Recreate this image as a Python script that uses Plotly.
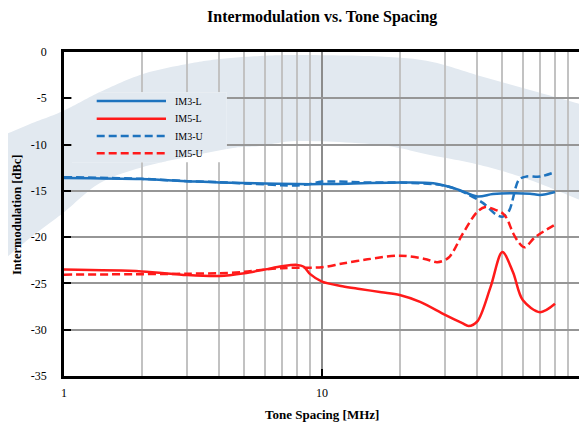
import numpy as np
import plotly.graph_objects as go

# ---------------- data ----------------
series_names = ["IM3-L", "IM5-L", "IM3-U", "IM5-U"]

freq_im3_l = [1, 2, 3, 4, 6, 8, 10, 20, 27, 30, 34, 40, 46, 55, 64, 70, 80]
im3_l = [-13.6, -13.72, -13.95, -14.1, -14.2, -14.27, -14.27, -14.1, -14.17, -14.45,
         -14.9, -15.6, -15.35, -15.25, -15.3, -15.45, -15.13]

freq_im5_l = [1, 2, 3, 4, 5, 6, 7, 8, 8.5, 9, 10, 12, 14, 17, 20, 24, 30, 35, 37, 40,
              45, 50, 55, 60, 70, 80]
im5_l = [-23.5, -23.7, -24.1, -24.2, -23.9, -23.5, -23.15, -23.0, -23.2, -24.0, -24.8,
         -25.3, -25.6, -25.95, -26.25, -27.0, -28.4, -29.3, -29.6, -29.1, -25.4, -21.6,
         -23.8, -26.8, -28.1, -27.2]

freq_im3_u = [1, 2, 3, 4, 5, 6, 7, 8, 9, 10, 15, 20, 30, 36, 42, 47, 50, 53, 58, 62, 70, 80]
im3_u = [-13.52, -13.7, -13.95, -14.06, -14.2, -14.3, -14.4, -14.42, -14.25, -14.0, -14.1,
         -14.1, -14.45, -15.25, -16.3, -17.5, -17.8, -17.2, -13.8, -13.45, -13.45, -12.97]

freq_im5_u = [1, 2, 3, 4, 5, 6, 7, 8, 10, 12, 15, 20, 25, 28, 31, 35, 40, 43, 47, 50, 52,
              55, 58, 61, 67, 80]
im5_u = [-24.05, -24.0, -23.95, -23.9, -23.75, -23.5, -23.35, -23.3, -23.25, -22.85, -22.4,
         -22.0, -22.35, -22.7, -22.2, -19.7, -17.25, -16.75, -17.05, -17.4, -17.95, -19.55,
         -20.6, -21.1, -20.0, -18.65]

x_major_ticks = [1, 10, 100]
x_major_labels = ["1", "10", "100"]
x_minor_ticks = [2, 3, 4, 5, 6, 7, 8, 9, 20, 30, 40, 50, 60, 70, 80, 90]
y_ticks = [0, -5, -10, -15, -20, -25, -30, -35]
y_labels = ["0", "-5", "-10", "-15", "-20", "-25", "-30", "-35"]

title_text = "Intermodulation vs. Tone Spacing"
x_title = "Tone Spacing [MHz]"
y_title = "Intermodulation [dBc]"

# ---------------- styling ----------------
BLUE = "#1E73BE"
RED = "#FF1A1A"
DASH = "8px,4px"
FONT = "Liberation Serif"
WM = "rgb(226,233,240)"

OFF = 8                      # page body margin of the html page
W, H = 579, 419              # figure size (page 587x427 minus body offset)
ML, MR, MT, MB = 56, 7, 44, 51
PW = W - ML - MR
PH = H - MT - MB


def pp(px, py):
    """page pixel -> paper fraction"""
    fx, fy = px - OFF, py - OFF
    return (fx - ML) / PW, (H - MB - fy) / PH


def catmull(pts, n=14):
    pts = np.array(pts, float)
    P = np.vstack([pts[0], pts, pts[-1]])
    out = []
    for i in range(1, len(P) - 2):
        p0, p1, p2, p3 = P[i - 1], P[i], P[i + 1], P[i + 2]
        for t in np.linspace(0, 1, n, endpoint=False):
            t2, t3 = t * t, t * t * t
            out.append(0.5 * ((2 * p1) + (-p0 + p2) * t + (2 * p0 - 5 * p1 + 4 * p2 - p3) * t2
                              + (-p0 + 3 * p1 - 3 * p2 + p3) * t3))
    out.append(P[-2])
    return np.array(out)


# watermark swoosh (decoration), page-pixel geometry
outer_pts = [(-10, 143), (0, 137), (30, 124), (63, 111), (100, 92), (143, 74), (187, 64),
             (220, 59), (260, 56), (300, 55), (380, 56.5), (430, 61.5), (480, 76),
             (530, 90), (580, 104), (600, 110)]
inner_pts = [(-10, 271), (0, 263), (30, 238), (63, 213), (100, 183), (143, 167), (187, 157),
             (233, 148), (260, 146), (300, 141), (380, 145), (430, 155), (480, 165),
             (530, 180), (580, 200), (600, 207)]
outer = catmull(outer_pts)
inner = catmull(inner_pts)


def path_from(points):
    s = ""
    for i, (x, y) in enumerate(points):
        a, b = pp(x, y)
        s += ("M" if i == 0 else "L") + f"{a:.5f},{b:.5f} "
    return s + "Z"


band = list(outer) + list(inner[::-1])
shapes = [dict(type="path", path=path_from(band), xref="paper", yref="paper",
               fillcolor=WM, line=dict(width=0), layer="below")]

# legend box (white, hides grid), with the swoosh continuing over it
LX0, LX1, LY0, LY1 = 72, 226.7, 92.3, 162.3
a0, b0 = pp(LX0, LY1)
a1, b1 = pp(LX1, LY0)
shapes.append(dict(type="rect", xref="paper", yref="paper", x0=a0, x1=a1, y0=b0, y1=b1,
                   fillcolor="white", line=dict(width=0), layer="above"))
xs = np.linspace(LX0, LX1, 120)
top = np.maximum(np.interp(xs, outer[:, 0], outer[:, 1]), LY0)
bot = np.minimum(np.interp(xs, inner[:, 0], inner[:, 1]), LY1)
ok = top < bot
piece = [(x, y) for x, y in zip(xs[ok], top[ok])] + \
        [(x, y) for x, y in zip(xs[ok][::-1], bot[ok][::-1])]
shapes.append(dict(type="path", path=path_from(piece), xref="paper", yref="paper",
                   fillcolor=WM, line=dict(width=0), layer="above"))

# ---------------- traces ----------------
fig = go.Figure()
specs = [(freq_im3_l, im3_l, BLUE, "solid"),
         (freq_im5_l, im5_l, RED, "solid"),
         (freq_im3_u, im3_u, BLUE, DASH),
         (freq_im5_u, im5_u, RED, DASH)]
for name, (fx, fy, col, dash) in zip(series_names, specs):
    fig.add_trace(go.Scatter(x=fx, y=fy, name=name, mode="lines",
                             line=dict(color=col, width=2.5, dash=dash, shape="spline",
                                       smoothing=0.9),
                             showlegend=False))

# manual legend (long samples like the reference)
annotations = []
leg_rows = [101, 118.7, 136, 153.3]
for name, (fx, fy, col, dash), ry in zip(series_names, specs, leg_rows):
    x0, y0 = pp(96.7, ry)
    x1, _ = pp(166, ry)
    shapes.append(dict(type="line", xref="paper", yref="paper", x0=x0, x1=x1, y0=y0, y1=y0,
                       line=dict(color=col, width=2.5, dash=dash), layer="above"))
    tx, _ = pp(172.5, ry)
    annotations.append(dict(text=name, xref="paper", yref="paper", x=tx, y=y0,
                            xanchor="left", yanchor="middle", showarrow=False,
                            font=dict(family=FONT, size=10, color="black")))

# axis titles and chart title
ax_, ay_ = pp(17, 215)
annotations.append(dict(text=y_title, xref="paper", yref="paper", x=ax_, y=ay_, textangle=-90,
                        xanchor="center", yanchor="middle", showarrow=False,
                        font=dict(family=FONT, size=12.5, color="black", weight="bold")))
bx_, by_ = pp(322, 414)
annotations.append(dict(text=x_title, xref="paper", yref="paper", x=bx_, y=by_,
                        xanchor="center", yanchor="middle", showarrow=False,
                        font=dict(family=FONT, size=13, color="black", weight="bold")))
tx_, ty_ = pp(322, 17)
annotations.append(dict(text=title_text, xref="paper", yref="paper", x=tx_, y=ty_,
                        xanchor="center", yanchor="middle", showarrow=False,
                        font=dict(family=FONT, size=16, color="black", weight="bold")))

fig.update_layout(
    width=W, height=H,
    margin=dict(l=ML, r=MR, t=MT, b=MB, pad=0),
    paper_bgcolor="white",
    plot_bgcolor="rgba(0,0,0,0)",
    showlegend=False,
    shapes=shapes,
    annotations=annotations,
    font=dict(family=FONT, size=12, color="black"),
)
fig.update_xaxes(
    type="log", range=[0, 2], automargin=False,
    tickmode="array", tickvals=x_major_ticks, ticktext=x_major_labels,
    ticks="inside", ticklen=7, tickwidth=1.5, tickcolor="black",
    ticklabelstandoff=4,
    showgrid=True, gridcolor="#8C8C8C", gridwidth=1.6,
    minor=dict(tickmode="array", tickvals=x_minor_ticks, showgrid=True,
               gridcolor="#C2C2C2", gridwidth=1.6, ticks=""),
    showline=True, mirror=True, linecolor="black", linewidth=2.5,
    zeroline=False,
    tickfont=dict(family=FONT, size=12, color="black"),
)
fig.update_yaxes(
    range=[-35, 0], automargin=False,
    tickmode="array", tickvals=y_ticks, ticktext=y_labels,
    ticks="inside", ticklen=7, tickwidth=1.5, tickcolor="black",
    ticklabelstandoff=12,
    showgrid=True, gridcolor="#969696", gridwidth=1.6,
    showline=True, mirror=True, linecolor="black", linewidth=2.5,
    zeroline=False,
    tickfont=dict(family=FONT, size=12, color="black"),
)

fig.write_html("out.html")
